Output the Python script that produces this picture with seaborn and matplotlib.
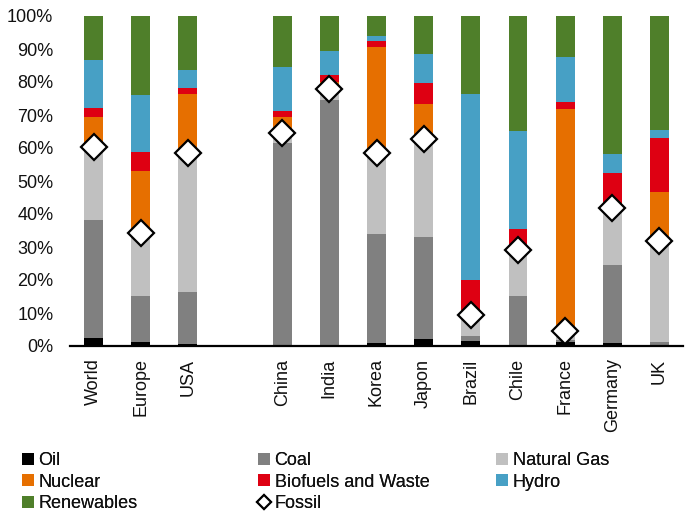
import numpy as np
import pandas as pd
import matplotlib
matplotlib.use("Agg")
import matplotlib.pyplot as plt
import seaborn as sns
from matplotlib.patches import Patch
from matplotlib.lines import Line2D
from matplotlib.ticker import PercentFormatter

# categories (a blank slot separates the regional aggregates from the countries)
countries = ["World", "Europe", "USA", "China", "India", "Korea", "Japon",
             "Brazil", "Chile", "France", "Germany", "UK"]
order = ["World", "Europe", "USA", " ", "China", "India", "Korea", "Japon",
         "Brazil", "Chile", "France", "Germany", "UK"]

# share of energy mix, %
oil         = [2.5, 1.2, 0.6, 0.1, 0.3, 1.0, 2.1, 1.5, 0.3, 1.3, 0.9, 0.4]
coal        = [35.7, 14.0, 15.8, 61.5, 74.2, 32.9, 30.9, 1.5, 14.9, 0.5, 23.6, 0.8]
natural_gas = [22.2, 19.0, 42.0, 2.9, 3.3, 24.7, 29.6, 6.5, 13.9, 2.7, 17.4, 30.7]
nuclear     = [9.0, 18.8, 18.0, 4.8, 2.3, 32.0, 10.7, 1.3, 0.0, 67.3, 1.5, 14.8]
biofuels    = [2.8, 5.8, 1.7, 2.0, 2.1, 1.8, 6.4, 9.2, 6.4, 2.1, 9.0, 16.3]
hydro       = [14.5, 17.3, 5.5, 13.2, 7.2, 1.5, 8.8, 56.4, 29.7, 13.7, 5.8, 2.5]
renewables  = [13.3, 23.9, 16.4, 15.5, 10.6, 6.1, 11.5, 23.6, 34.8, 12.4, 41.8, 34.5]
fossil      = [60.4, 34.2, 58.4, 64.5, 77.8, 58.6, 62.6, 9.5, 29.1, 4.5, 41.9, 31.9]

layers = [
    ("Oil", oil, "#000000"),
    ("Coal", coal, "#808080"),
    ("Natural Gas", natural_gas, "#C0C0C0"),
    ("Nuclear", nuclear, "#E66F00"),
    ("Biofuels and Waste", biofuels, "#DE0012"),
    ("Hydro", hydro, "#47A0C5"),
    ("Renewables", renewables, "#4F7F2A"),
]

sns.set_theme(style="white")
plt.rcParams["font.family"] = ["Liberation Sans", "DejaVu Sans"]

fig, ax = plt.subplots(figsize=(6.88, 5.18), dpi=100)
fig.subplots_adjust(left=70 / 688, right=683 / 688, bottom=1 - 346 / 518, top=1 - 16 / 518)

# stacked bars: draw cumulative tops from the highest layer down
tops = np.cumsum(np.array([vals for _, vals, _ in layers]), axis=0)
for (name, _, color), top in reversed(list(zip(layers, tops))):
    sns.barplot(x=countries, y=top, order=order, color=color, saturation=1,
                width=0.4, errorbar=None, linewidth=0, ax=ax)

# fossil share markers
sns.pointplot(x=countries, y=fossil, order=order, color="black", errorbar=None,
              markers="D", linestyle="none", markersize=13, markerfacecolor="white",
              markeredgecolor="black", markeredgewidth=1.6, ax=ax, zorder=5)

ax.set_ylim(0, 100)
ax.set_yticks(np.arange(0, 101, 10))
ax.yaxis.set_major_formatter(PercentFormatter(100, decimals=0))
ax.set_xlabel("")
ax.set_ylabel("")
ax.tick_params(axis="x", labelrotation=90, length=0, pad=9, labelsize=13, colors="#111111")
ax.tick_params(axis="y", length=0, pad=12, labelsize=13, colors="#111111")
for side in ["left", "top", "right"]:
    ax.spines[side].set_visible(False)
ax.spines["bottom"].set_color("black")
ax.spines["bottom"].set_linewidth(1.6)
ax.grid(False)

# legend: three columns placed separately
patches = {name: Patch(facecolor=color, edgecolor="none") for name, _, color in layers}
fossil_handle = Line2D([], [], marker="D", linestyle="none", markersize=7,
                       markerfacecolor="white", markeredgecolor="black", markeredgewidth=1.5)
columns = [
    (["Oil", "Nuclear", "Renewables"], 22 / 688),
    (["Coal", "Biofuels and Waste", "Fossil"], 258 / 688),
    (["Natural Gas", "Hydro"], 496 / 688),
]
for names, x0 in columns:
    handles = [fossil_handle if n == "Fossil" else patches[n] for n in names]
    leg = fig.legend(handles, names, loc="upper left", bbox_to_anchor=(x0, 1 - 452 / 518),
                     frameon=False, fontsize=13, handlelength=0.67, handleheight=0.67,
                     handletextpad=0.25, labelspacing=0.25, borderpad=0, borderaxespad=0,
                     labelcolor="#111111")
    fig.add_artist(leg)

plt.savefig("out.png", dpi=100)
plt.close()
